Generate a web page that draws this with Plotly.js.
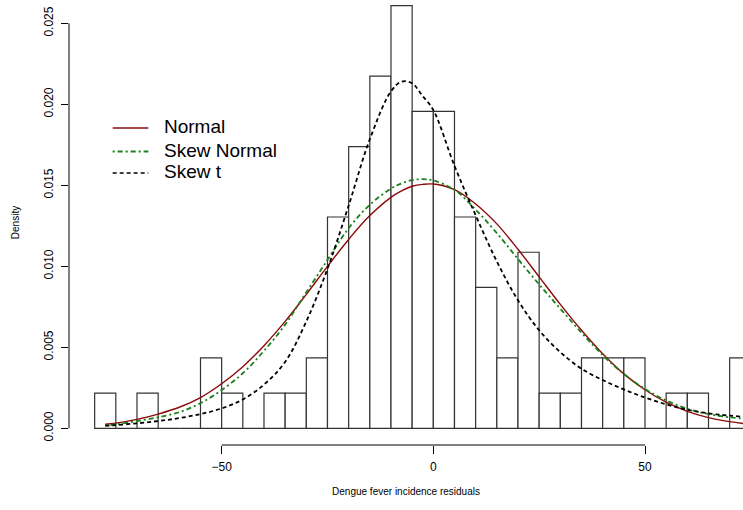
<!DOCTYPE html>
<html>
<head>
<meta charset="utf-8">
<script src="https://cdn.plot.ly/plotly-3.0.1.min.js"></script>
<style>
  html, body { margin: 0; padding: 0; background: #fff; }
  #chart { width: 743px; height: 510px; }
</style>
</head>
<body>
<div id="chart"></div>
<script>
// ---- Histogram data (bin left edges, counts per bin of width 5) ----
const binLeft = [-80,-75,-70,-65,-60,-55,-50,-45,-40,-35,-30,-25,-20,-15,-10,-5,0,5,10,15,20,25,30,35,40,45,50,55,60,65,70];
const binCounts = [1,0,1,0,0,2,1,0,1,1,2,6,8,10,12,9,9,6,4,2,5,1,1,2,2,2,0,1,1,0,2];
const binWidth = 5;

// ---- Fitted density curves ----
const curveX = [-77.5,-75,-70,-65,-60,-55,-50,-45,-40,-35,-30,-25,-20,-15,-10,-7.5,-5,-2.5,0,5,10,15,20,25,30,35,40,45,50,55,60,65,70,75];
const normalY = [0.00025,0.00032,0.00055,0.00088,0.00130,0.00190,0.00275,0.00380,0.00510,0.00660,0.00827,0.01000,0.01166,0.01313,0.01426,0.01465,0.01494,0.01506,0.01508,0.01473,0.01385,0.01262,0.01105,0.00935,0.00765,0.00605,0.00460,0.00336,0.00238,0.00161,0.00105,0.00066,0.00041,0.00024];
const skewNormalY = [0.00016,0.00024,0.00045,0.00068,0.00100,0.00155,0.00236,0.00340,0.00478,0.00640,0.00840,0.01040,0.01235,0.01380,0.01480,0.01512,0.01532,0.01538,0.01530,0.01472,0.01350,0.01205,0.01045,0.00888,0.00738,0.00590,0.00452,0.00335,0.00242,0.00172,0.00120,0.00088,0.00068,0.00057];
const skewTY = [0.00016,0.00020,0.00031,0.00045,0.00063,0.00088,0.00123,0.00178,0.00270,0.00410,0.00660,0.00985,0.01375,0.01785,0.02080,0.02140,0.02130,0.02050,0.01965,0.01620,0.01315,0.01030,0.00790,0.00605,0.00470,0.00368,0.00298,0.00240,0.00190,0.00148,0.00115,0.00092,0.00078,0.00068];

// ---- Axis ticks & labels ----
const xTicks = [-50, 0, 50];
const xTickText = ["\u221250", "0", "50"];
const yTicks = [0, 0.005, 0.010, 0.015, 0.020, 0.025];
const yTickText = ["0.000", "0.005", "0.010", "0.015", "0.020", "0.025"];
const seriesNames = ["Normal", "Skew Normal", "Skew t"];
const xTitle = "Dengue fever incidence residuals";
const yTitle = "Density";

const nTotal = binCounts.reduce((a, b) => a + b, 0);
const binCenters = binLeft.map(v => v + binWidth / 2);
const binDensity = binCounts.map(c => c / (nTotal * binWidth));

const FONT = "Liberation Sans, Arial, Helvetica, sans-serif";
const colNormal = "#8b0a0a";
const colSkewN = "#1a801a";
const colSkewT = "#000000";

const traces = [
  {
    type: "bar", x: binCenters, y: binDensity, width: binWidth,
    marker: { color: "#ffffff", line: { color: "#333333", width: 1.2 } },
    hoverinfo: "skip", showlegend: false
  },
  {
    type: "scatter", mode: "lines", name: seriesNames[0], x: curveX, y: normalY,
    line: { color: colNormal, width: 1.4, shape: "spline" }, showlegend: false
  },
  {
    type: "scatter", mode: "lines", name: seriesNames[1], x: curveX, y: skewNormalY,
    line: { color: colSkewN, width: 1.8, dash: "2px,3px,5px,3px", shape: "spline" }, showlegend: false
  },
  {
    type: "scatter", mode: "lines", name: seriesNames[2], x: curveX, y: skewTY,
    line: { color: colSkewT, width: 1.8, dash: "4px,3px", shape: "spline" }, showlegend: false
  }
];

// manual legend (positions in paper coords)
const legRows = [0.7124, 0.6596, 0.6112];
const legStyles = [
  { color: colNormal, width: 1.4, dash: "solid" },
  { color: colSkewN, width: 2, dash: "2px,3px,5px,3px" },
  { color: colSkewT, width: 1.3, dash: "4px,3px" }
];

const shapes = [
  // y axis line spanning the tick range
  { type: "line", xref: "paper", yref: "y", x0: 0, x1: 0, y0: yTicks[0], y1: yTicks[yTicks.length - 1],
    line: { color: "#000", width: 1 } },
  // x axis line spanning the tick range
  { type: "line", xref: "x", yref: "paper", x0: xTicks[0], x1: xTicks[xTicks.length - 1], y0: 0, y1: 0,
    line: { color: "#000", width: 1 } }
];
const annotations = [];
seriesNames.forEach((nm, i) => {
  shapes.push({ type: "line", xref: "paper", yref: "paper", x0: 0.0648, x1: 0.1177, y0: legRows[i], y1: legRows[i],
    line: legStyles[i] });
  annotations.push({ xref: "paper", yref: "paper", x: 0.138, y: legRows[i] + 0.003, text: nm, showarrow: false,
    xanchor: "left", yanchor: "middle", font: { family: FONT, size: 19, color: "#000" } });
});

const layout = {
  width: 743, height: 510,
  margin: { l: 69, r: 0, t: 0, b: 65, pad: 0 },
  paper_bgcolor: "#ffffff", plot_bgcolor: "#ffffff",
  font: { family: FONT, color: "#000" },
  bargap: 0,
  showlegend: false,
  xaxis: {
    range: [-86.06, 73.15], showgrid: false, zeroline: false, showline: false,
    ticks: "outside", ticklen: 8, tickwidth: 1, tickcolor: "#000",
    tickmode: "array", tickvals: xTicks, ticktext: xTickText,
    tickfont: { family: FONT, size: 12, color: "#000" }, ticklabelstandoff: 3,
    title: { text: xTitle, font: { family: FONT, size: 10, color: "#000" }, standoff: 14 }
  },
  yaxis: {
    range: [-0.00103, 0.02644], showgrid: false, zeroline: false, showline: false,
    ticks: "outside", ticklen: 7, tickwidth: 1, tickcolor: "#000",
    tickmode: "array", tickvals: yTicks, ticktext: yTickText, tickangle: -90,
    tickfont: { family: FONT, size: 12, color: "#000" }, ticklabelstandoff: 3,
    title: { text: yTitle, font: { family: FONT, size: 10, color: "#000" }, standoff: 20 }
  },
  shapes: shapes,
  annotations: annotations
};

Plotly.newPlot("chart", traces, layout, { staticPlot: true, displayModeBar: false });
</script>
</body>
</html>
